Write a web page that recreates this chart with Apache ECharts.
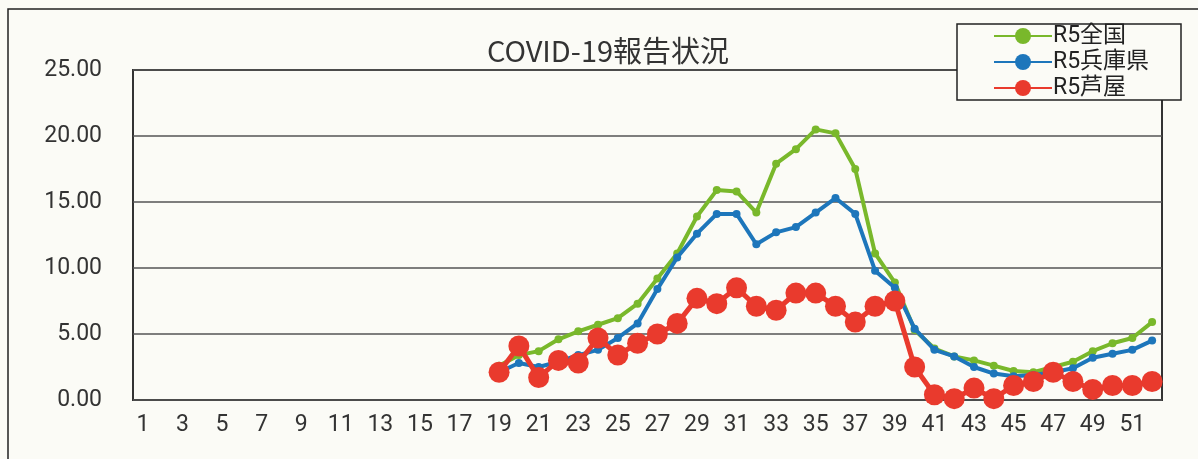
<!DOCTYPE html>
<html>
<head>
<meta charset="utf-8">
<title>COVID-19報告状況</title>
<script src="https://cdn.jsdelivr.net/npm/echarts@6/dist/echarts.min.js"></script>
<style>
  html, body { margin: 0; padding: 0; background: #fbfbf6; }
  #chart { width: 1198px; height: 459px; }
</style>
</head>
<body>
<div id="chart"></div>
<script>
// 週番号 1〜52
const weeks = [];
for (let i = 1; i <= 52; i++) weeks.push(String(i));

// 定点当たり報告数（19週より前はデータなし）
const emptyWeeks = new Array(18).fill(null);
const zenkoku = emptyWeeks.concat([
  2.6, 3.4, 3.7, 4.6, 5.2, 5.7, 6.2, 7.3, 9.2, 11.1,
  13.9, 15.9, 15.8, 14.2, 17.9, 19.0, 20.5, 20.2, 17.5, 11.1,
  8.9, 5.3, 3.9, 3.3, 3.0, 2.6, 2.2, 2.1, 2.5, 2.9,
  3.7, 4.3, 4.7, 5.9
]);
const hyogo = emptyWeeks.concat([
  2.1, 2.8, 2.5, 2.9, 3.4, 3.8, 4.7, 5.8, 8.4, 10.8,
  12.6, 14.1, 14.1, 11.8, 12.7, 13.1, 14.2, 15.3, 14.1, 9.8,
  8.5, 5.4, 3.8, 3.3, 2.5, 2.0, 1.8, 1.9, 2.1, 2.4,
  3.2, 3.5, 3.8, 4.5
]);
const ashiya = emptyWeeks.concat([
  2.1, 4.1, 1.7, 3.0, 2.8, 4.7, 3.4, 4.3, 5.0, 5.8,
  7.7, 7.3, 8.5, 7.1, 6.8, 8.1, 8.1, 7.1, 5.9, 7.1,
  7.5, 2.5, 0.4, 0.1, 0.9, 0.1, 1.1, 1.4, 2.1, 1.4,
  0.8, 1.1, 1.1, 1.4
]);

const seriesNames = ['R5全国', 'R5兵庫県', 'R5芦屋'];
const yTicks = [0, 5, 10, 15, 20, 25];

const labelFont = "Roboto, 'Noto Sans CJK JP', sans-serif";

const chart = echarts.init(document.getElementById('chart'));

const option = {
  backgroundColor: '#fbfbf6',
  animation: false,
  title: {
    text: 'COVID-19報告状況',
    left: 603,
    top: 31,
    textAlign: 'center',
    textStyle: {
      fontFamily: "'Noto Sans CJK JP', sans-serif",
      fontWeight: 'normal',
      fontSize: 29,
      color: '#333'
    }
  },
  // 外枠と凡例の枠
  graphic: [
    {
      type: 'rect',
      shape: { x: 8, y: 9, width: 1200, height: 470 },
      style: { fill: null, stroke: '#222', lineWidth: 1.5 },
      z: 1
    },
    {
      type: 'rect',
      shape: { x: 957, y: 24, width: 224, height: 76 },
      style: { fill: '#fbfbf6', stroke: '#222', lineWidth: 1.5 },
      z: 10
    }
  ],
  legend: {
    data: seriesNames,
    orient: 'vertical',
    left: 993,
    top: 23,
    itemWidth: 58,
    itemHeight: 20,
    itemGap: 0,
    padding: [0, 0, 0, 0],
    z: 20,
    textStyle: {
      fontFamily: labelFont,
      fontSize: 23,
      lineHeight: 26,
      color: '#222',
      padding: [0, 0, 0, -4]
    }
  },
  grid: {
    left: 133,
    top: 70,
    right: 36,
    bottom: 59,
    show: true,
    borderColor: '#333',
    borderWidth: 2
  },
  xAxis: {
    type: 'category',
    data: weeks,
    boundaryGap: true,
    axisLine: { show: false },
    axisTick: { show: false },
    axisLabel: {
      interval: 1,
      margin: 14,
      fontFamily: labelFont,
      fontSize: 23,
      color: '#333'
    }
  },
  yAxis: {
    type: 'value',
    min: yTicks[0],
    max: yTicks[yTicks.length - 1],
    interval: 5,
    axisLine: { show: false },
    axisTick: { show: false },
    axisLabel: {
      margin: 31,
      fontFamily: labelFont,
      fontSize: 23,
      color: '#333',
      formatter: v => v.toFixed(2)
    },
    splitLine: { lineStyle: { color: '#555', width: 1.5 } }
  },
  series: [
    {
      name: seriesNames[0],
      type: 'line',
      data: zenkoku,
      symbol: 'circle',
      symbolSize: 8,
      showAllSymbol: true,
      color: '#79b82b',
      lineStyle: { width: 4 },
      z: 3
    },
    {
      name: seriesNames[1],
      type: 'line',
      data: hyogo,
      symbol: 'circle',
      symbolSize: 8,
      showAllSymbol: true,
      color: '#1d76bb',
      lineStyle: { width: 4 },
      z: 4
    },
    {
      name: seriesNames[2],
      type: 'line',
      data: ashiya,
      symbol: 'circle',
      symbolSize: 21,
      showAllSymbol: true,
      color: '#e93a2d',
      lineStyle: { width: 5 },
      clip: false,
      z: 5
    }
  ]
};

chart.setOption(option);
</script>
</body>
</html>
